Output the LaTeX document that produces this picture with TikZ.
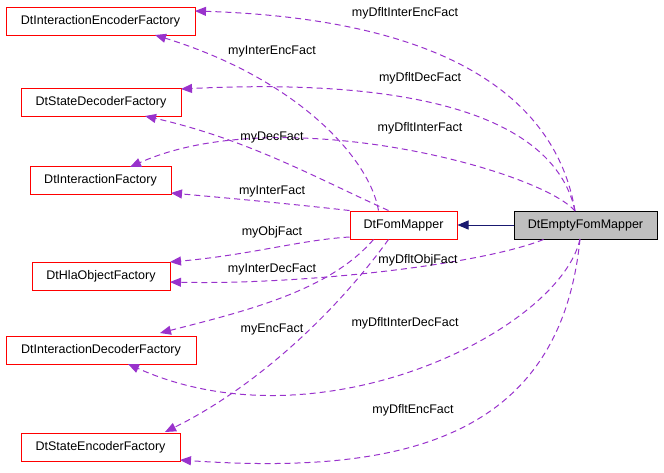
\documentclass[tikz,border=0pt]{standalone}
\usepackage{fontspec}
\setmainfont{Liberation Sans}
\usetikzlibrary{arrows.meta}
\begin{document}
\begin{tikzpicture}[x=1pt,y=-1pt,line width=1pt,
 box/.style={draw=red,fill=white,minimum height=28pt,inner sep=0pt,font=\fontsize{12.5}{14}\selectfont},
 rel/.style={draw={rgb,255:red,153;green,50;blue,204},dash pattern=on 6pt off 4pt,-{Triangle[length=11pt,width=9pt]}},
 lbl/.style={font=\fontsize{12.5}{14}\selectfont,inner sep=1pt}]
\useasboundingbox (0,0) rectangle (664,472);
\node[box,minimum width=189pt] (ief) at (100.5,21) {DtInteractionEncoderFactory};
\node[box,minimum width=160pt] (sdf) at (101,102) {DtStateDecoderFactory};
\node[box,minimum width=141pt] (if) at (100.5,180) {DtInteractionFactory};
\node[box,minimum width=138pt] (hof) at (101,276) {DtHlaObjectFactory};
\node[box,minimum width=190pt] (idf) at (101,350) {DtInteractionDecoderFactory};
\node[box,minimum width=159pt] (sef) at (100.5,447) {DtStateEncoderFactory};
\node[box,minimum width=107pt] (fm) at (403.5,225) {DtFomMapper};
\node[box,draw=black,fill={rgb,255:red,191;green,191;blue,191},minimum width=143pt] (em) at (585.5,225) {DtEmptyFomMapper};
\coordinate (e1) at (575,211);
\coordinate (e2) at (580,239);
\draw[draw={rgb,255:red,25;green,25;blue,112},-{Triangle[length=11pt,width=9pt]}] (em) -- (fm);
% from DtEmptyFomMapper
\draw[rel] (e1) .. controls (560,120) and (480,20) .. (195,11);
\draw[rel] (e1) .. controls (560,140) and (470,75) .. (181,89);
\draw[rel] (e1) .. controls (540,170) and (280,100) .. (130,167);
\draw[rel] (em.south west) ++(30,0) .. controls (480,265) and (300,285) .. (170,282);
\draw[rel] (e2) .. controls (560,330) and (320,450) .. (128,364);
\draw[rel] (e2) .. controls (560,440) and (400,475) .. (180,460);
% from DtFomMapper
\draw[rel] (fm.north) ++(-25,0) .. controls (370,160) and (300,80) .. (155,35);
\draw[rel] (fm.north) ++(-15,0) .. controls (320,180) and (250,140) .. (145,116);
\draw[rel] (fm.north west) .. controls (300,205) and (250,200) .. (171,193);
\draw[rel] (fm.west) ++(0,12) .. controls (300,240) and (250,255) .. (170,262);
\draw[rel] (fm.south) ++(-30,0) .. controls (330,290) and (250,310) .. (160,333);
\draw[rel] (fm.south) ++(-15,0) .. controls (330,320) and (250,390) .. (165,432);
% labels
\node[lbl] (l1) at (405,13) {myDfltInterEncFact};
\node[lbl] (l2) at (420,78) {myDfltDecFact};
\node[lbl] (l3) at (420,128) {myDfltInterFact};
\node[lbl] (l4) at (418,260) {myDfltObjFact};
\node[lbl] (l5) at (405,323) {myDfltInterDecFact};
\node[lbl] (l6) at (413,410) {myDfltEncFact};
\node[lbl] (m1) at (272,51) {myInterEncFact};
\node[lbl] (m2) at (272,137) {myDecFact};
\node[lbl] (m3) at (272,191) {myInterFact};
\node[lbl] (m4) at (272,232) {myObjFact};
\node[lbl] (m5) at (272,269) {myInterDecFact};
\node[lbl] (m6) at (272,329) {myEncFact};
\end{tikzpicture}
\end{document}
